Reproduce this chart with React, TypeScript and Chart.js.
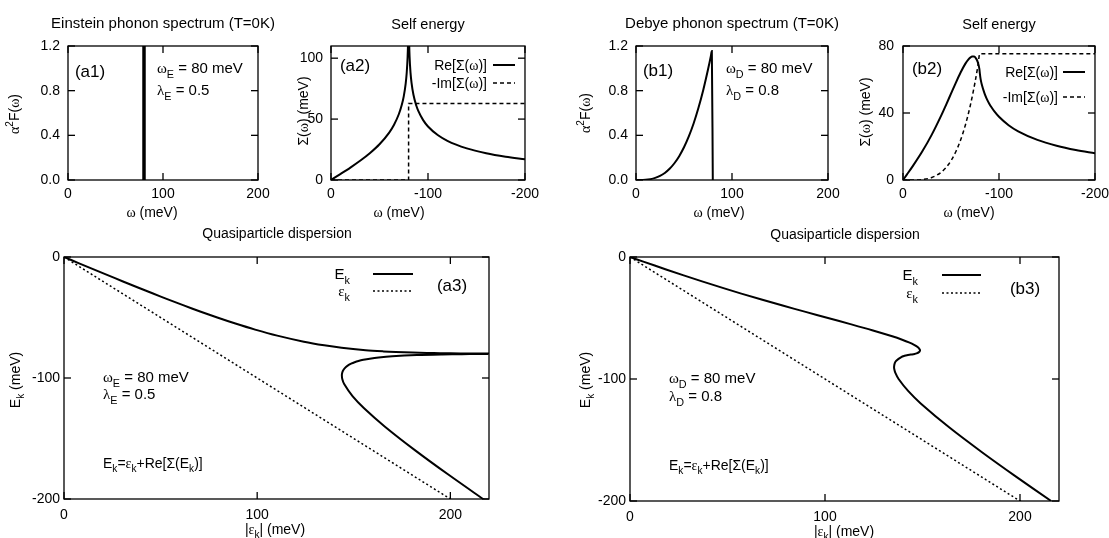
import React, { useEffect, useRef } from 'react';
import { Chart, registerables } from 'chart.js';

Chart.register(...registerables);

const FONT = '"Liberation Sans", Arial, Helvetica, sans-serif';
const SERIF = '"Liberation Serif", "DejaVu Serif", serif';

// ---------- (a1) Einstein phonon spectrum ----------
const einsteinSpecOmega = [80, 80];
const einsteinSpecA2F = [0, 1.2];

// ---------- (a2) Einstein self energy ----------
const einsteinOmega = [0, -10, -20, -30, -40, -50, -60, -65, -70, -73, -75, -77, -78, -79, -79.5, -79.7,
  -80.3, -80.5, -81, -82, -83, -85, -88, -90, -95, -100, -110, -120, -140, -160, -180, -200];
const einsteinReSigma = [0, 5.03, 10.22, 15.77, 21.97, 29.33, 38.92, 45.37, 54.16, 61.69, 68.68, 79.15, 87.39, 101.38, 115.3, 125.5,
  125.6, 115.4, 101.6, 87.9, 79.9, 69.93, 60.89, 56.67, 49.13, 43.94, 36.92, 32.19, 25.99, 21.97, 19.11, 16.95];
const einsteinImOmega = [0, -80, -80, -200];
const einsteinImSigma = [0, 0, 62.83, 62.83];

// ---------- (b1) Debye phonon spectrum ----------
const debyeSpecOmega = [0, 10, 15, 20, 25, 30, 35, 40, 45, 50, 55, 60, 65, 70, 75, 78, 79, 80];
const debyeSpecA2F = [0, 0.0023, 0.0079, 0.0188, 0.0366, 0.0633, 0.1005, 0.15, 0.2136, 0.293, 0.3899, 0.506, 0.644, 0.804, 0.989, 1.112, 1.156, 0];

// ---------- (b2) Debye self energy ----------
const debyeOmega = [0, -4, -10, -20, -30, -40, -45, -50, -55, -60, -65, -68, -70, -72, -74, -76, -77, -78,
  -79, -79.5, -80, -80.5, -81, -82, -85, -87, -90, -92, -95, -100, -110, -120, -140, -160, -180, -200];
const debyeReSigma = [0, 3.21, 8.12, 16.96, 27.08, 38.72, 45.04, 51.54, 58.03, 64.17, 69.47, 71.9, 73.05, 73.7, 73.66, 72.66, 71.66, 70.19,
  67.99, 66.43, 64.0, 61.51, 59.81, 57.14, 51.55, 48.78, 45.42, 43.54, 41.09, 37.74, 32.73, 29.08, 23.97, 20.5, 17.95, 15.99];
const debyeImOmega = [0, -10, -20, -30, -40, -45, -50, -55, -60, -65, -70, -75, -78, -80, -200];
const debyeImSigma = [0, 0.018, 0.295, 1.49, 4.71, 7.55, 11.5, 16.84, 23.86, 32.86, 44.2, 58.24, 68.14, 75.4, 75.4];

// ---------- (a3) Einstein quasiparticle dispersion ----------
const einsteinUpperEps = [0, 7.5, 15.03, 22.59, 30.22, 37.93, 45.77, 53.77, 61.97, 70.46, 79.33, 88.73, 98.92, 110.37, 124.16,
  134.69, 143.68, 156.15, 165.39, 171.71, 180.38, 187.85, 194.8, 205.25, 213.44, 220.67];
const einsteinUpperE = [0, -5, -10, -15, -20, -25, -30, -35, -40, -45, -50, -55, -60, -65, -70,
  -73, -75, -77, -78, -78.5, -79, -79.3, -79.5, -79.7, -79.8, -79.86];
const einsteinLowerEps = [219.6, 213.9, 205.92, 195.8, 182.63, 169.89, 162.9, 158.27, 154.93, 152.4, 150.44, 148.89, 146.67,
  145.25, 144.4, 143.96, 143.83, 144.08, 145.03, 149.35, 155.33, 165.99, 181.97, 199.11, 216.95, 220.57];
const einsteinLowerE = [-80.15, -80.2, -80.3, -80.5, -81, -82, -83, -84, -85, -86, -87, -88, -90,
  -92, -94, -96, -98, -101, -105, -115, -125, -140, -160, -180, -200, -204];
const bareEps = [0, 220];
const bareE = [0, -220];

// ---------- (b3) Debye quasiparticle dispersion ----------
const debyeDispEps = [0, 7.21, 18.12, 36.96, 57.08, 78.72, 90.04, 101.54, 113.03, 124.17, 134.47, 139.9, 143.05, 145.7, 147.66,
  148.66, 148.66, 148.19, 146.99, 145.93, 144.0, 142.01, 140.81, 139.14, 136.55, 135.78, 135.42, 135.54, 136.09, 137.74,
  142.73, 149.08, 163.97, 180.5, 197.95, 215.99];
const debyeDispE = [0, -4, -10, -20, -30, -40, -45, -50, -55, -60, -65, -68, -70, -72, -74,
  -76, -77, -78, -79, -79.5, -80, -80.5, -81, -82, -85, -87, -90, -92, -95, -100,
  -110, -120, -140, -160, -180, -200];

// ---------- tick labels ----------
const a2fTicks = ['0.0', '0.4', '0.8', '1.2'];

const zip = (xs: number[], ys: number[]) => xs.map((x, i) => ({ x, y: ys[i] }));

interface TextSpec { x: number; y: number; s: string; size: number; align?: 'left' | 'center' | 'right'; rot?: boolean }
interface Sample { x1: number; x2: number; y: number; dash: number[]; w: number }
interface PanelSpec {
  id: string;
  frame: [number, number, number, number];
  canvas: [number, number, number, number];
  xMin: number; xMax: number; xStep: number; xReverse?: boolean;
  yMin: number; yMax: number; yStep: number; yFmt?: (v: number) => string;
  yPad: number; xPad: number;
  datasets: any[];
  texts: TextSpec[];
  samples: Sample[];
}

const solid = (data: any[], w = 2) => ({ data, borderColor: '#000', borderWidth: w, pointRadius: 0, tension: 0, fill: false, clip: 0 });
const smooth = (data: any[], w = 2) => ({ ...solid(data, w), cubicInterpolationMode: 'monotone' });
const curved = (data: any[], w = 2) => ({ ...solid(data, w), tension: 0.3 });
const dashed = (data: any[], dash: number[], w = 1.5) => ({ ...solid(data, w), borderDash: dash });

const isGreek = (c: string) => /[\u0370-\u03ff]/.test(c) && c !== 'Σ';

function parseRich(s: string) {
  const out: { t: string; m: number }[] = [];
  let i = 0; let buf = '';
  while (i < s.length) {
    const c = s[i];
    if ((c === '_' || c === '^') && s[i + 1] === '{') {
      if (buf) { out.push({ t: buf, m: 0 }); buf = ''; }
      const end = s.indexOf('}', i + 2);
      out.push({ t: s.slice(i + 2, end), m: c === '_' ? 1 : 2 });
      i = end + 1;
    } else { buf += c; i++; }
  }
  if (buf) out.push({ t: buf, m: 0 });
  const runs: { t: string; m: number; g: boolean }[] = [];
  out.forEach(sg => {
    let cur = ''; let g = false;
    for (const ch of sg.t) {
      const gg = isGreek(ch);
      if (cur && gg !== g) { runs.push({ t: cur, m: sg.m, g }); cur = ''; }
      g = gg; cur += ch;
    }
    if (cur) runs.push({ t: cur, m: sg.m, g });
  });
  return runs;
}

function drawRich(ctx: CanvasRenderingContext2D, x: number, y: number, t: TextSpec) {
  const runs = parseRich(t.s);
  const size = t.size;
  const small = size * 0.72;
  const fontOf = (r: { m: number; g: boolean }) => `${r.m ? small : size}px ${r.g ? SERIF : FONT}`;
  let total = 0;
  const widths = runs.map(r => { ctx.font = fontOf(r); const w = ctx.measureText(r.t).width; total += w; return w; });
  ctx.save();
  ctx.translate(x, y);
  if (t.rot) ctx.rotate(-Math.PI / 2);
  let cx = t.align === 'center' ? -total / 2 : t.align === 'right' ? -total : 0;
  const base = size * 0.36;
  ctx.textBaseline = 'alphabetic';
  ctx.textAlign = 'left';
  ctx.fillStyle = '#000';
  runs.forEach((r, i) => {
    ctx.font = fontOf(r);
    const dy = r.m === 1 ? size * 0.28 : r.m === 2 ? -size * 0.42 : 0;
    ctx.fillText(r.t, cx, base + dy);
    cx += widths[i];
  });
  ctx.restore();
}

function makeDecor(spec: PanelSpec) {
  return {
    id: 'decor_' + spec.id,
    afterDatasetsDraw(chart: any) {
      const ctx: CanvasRenderingContext2D = chart.ctx;
      const ca = chart.chartArea;
      const ox = spec.canvas[0], oy = spec.canvas[1];
      ctx.save();
      ctx.strokeStyle = '#000';
      ctx.lineWidth = 1.3;
      ctx.setLineDash([]);
      ctx.strokeRect(ca.left, ca.top, ca.right - ca.left, ca.bottom - ca.top);
      const TL = 7;
      const line = (x1: number, y1: number, x2: number, y2: number) => { ctx.beginPath(); ctx.moveTo(x1, y1); ctx.lineTo(x2, y2); ctx.stroke(); };
      const xs = chart.scales.x, ys = chart.scales.y;
      xs.ticks.forEach((tk: any) => { const p = xs.getPixelForValue(tk.value); line(p, ca.bottom, p, ca.bottom - TL); line(p, ca.top, p, ca.top + TL); });
      ys.ticks.forEach((tk: any) => { const p = ys.getPixelForValue(tk.value); line(ca.left, p, ca.left + TL, p); line(ca.right, p, ca.right - TL, p); });
      spec.samples.forEach(s => {
        ctx.lineWidth = s.w;
        ctx.setLineDash(s.dash);
        line(s.x1 - ox, s.y - oy, s.x2 - ox, s.y - oy);
      });
      ctx.setLineDash([]);
      spec.texts.forEach(t => drawRich(ctx, t.x - ox, t.y - oy, t));
      ctx.restore();
    },
  };
}

const panels: PanelSpec[] = [
  {
    id: 'a1', frame: [68, 46, 258, 180], canvas: [0, 0, 279, 225],
    xMin: 0, xMax: 200, xStep: 100, yMin: 0, yMax: 1.2, yStep: 0.4,
    yFmt: (v) => a2fTicks[Math.round(v / 0.4)] ?? v.toFixed(1), yPad: 8, xPad: 6,
    datasets: [solid(zip(einsteinSpecOmega, einsteinSpecA2F), 3.5)],
    texts: [
      { x: 163, y: 23, s: 'Einstein phonon spectrum (T=0K)', size: 15, align: 'center' },
      { x: 90, y: 71, s: '(a1)', size: 17, align: 'center' },
      { x: 157, y: 68, s: 'ω_{E} = 80 meV', size: 15 },
      { x: 157, y: 90, s: 'λ_{E} = 0.5', size: 15 },
      { x: 14, y: 114, s: 'α^{2}F(ω)', size: 14, align: 'center', rot: true },
      { x: 152, y: 212, s: 'ω (meV)', size: 14, align: 'center' },
    ],
    samples: [],
  },
  {
    id: 'a2', frame: [331, 46, 525, 180], canvas: [280, 0, 545, 225],
    xMin: -200, xMax: 0, xStep: 100, xReverse: true, yMin: 0, yMax: 110, yStep: 50, yPad: 8, xPad: 6,
    datasets: [
      smooth(zip(einsteinOmega, einsteinReSigma), 2),
      dashed(zip(einsteinImOmega, einsteinImSigma), [4, 3], 1.5),
    ],
    texts: [
      { x: 428, y: 24, s: 'Self energy', size: 14.5, align: 'center' },
      { x: 355, y: 65, s: '(a2)', size: 17, align: 'center' },
      { x: 487, y: 65, s: 'Re[Σ(ω)]', size: 14, align: 'right' },
      { x: 487, y: 83, s: '-Im[Σ(ω)]', size: 14, align: 'right' },
      { x: 303, y: 111, s: 'Σ(ω) (meV)', size: 14, align: 'center', rot: true },
      { x: 399, y: 212, s: 'ω (meV)', size: 14, align: 'center' },
    ],
    samples: [
      { x1: 493, x2: 515, y: 65, dash: [], w: 2 },
      { x1: 493, x2: 515, y: 83, dash: [4, 3], w: 1.5 },
    ],
  },
  {
    id: 'b1', frame: [636, 46, 828, 180], canvas: [550, 0, 848, 225],
    xMin: 0, xMax: 200, xStep: 100, yMin: 0, yMax: 1.2, yStep: 0.4,
    yFmt: (v) => a2fTicks[Math.round(v / 0.4)] ?? v.toFixed(1), yPad: 8, xPad: 6,
    datasets: [smooth(zip(debyeSpecOmega, debyeSpecA2F), 2)],
    texts: [
      { x: 732, y: 23, s: 'Debye phonon spectrum (T=0K)', size: 15, align: 'center' },
      { x: 658, y: 70, s: '(b1)', size: 17, align: 'center' },
      { x: 726, y: 68, s: 'ω_{D} = 80 meV', size: 15 },
      { x: 726, y: 90, s: 'λ_{D} = 0.8', size: 15 },
      { x: 585, y: 113, s: 'α^{2}F(ω)', size: 14, align: 'center', rot: true },
      { x: 719, y: 212, s: 'ω (meV)', size: 14, align: 'center' },
    ],
    samples: [],
  },
  {
    id: 'b2', frame: [903, 46, 1095, 180], canvas: [850, 0, 1115, 225],
    xMin: -200, xMax: 0, xStep: 100, xReverse: true, yMin: 0, yMax: 80, yStep: 40, yPad: 9, xPad: 6,
    datasets: [
      smooth(zip(debyeOmega, debyeReSigma), 2),
      { ...dashed(zip(debyeImOmega, debyeImSigma), [4, 3], 1.5), cubicInterpolationMode: 'monotone' },
    ],
    texts: [
      { x: 999, y: 24, s: 'Self energy', size: 14.5, align: 'center' },
      { x: 927, y: 68, s: '(b2)', size: 17, align: 'center' },
      { x: 1058, y: 72, s: 'Re[Σ(ω)]', size: 14, align: 'right' },
      { x: 1058, y: 97, s: '-Im[Σ(ω)]', size: 14, align: 'right' },
      { x: 865, y: 112, s: 'Σ(ω) (meV)', size: 14, align: 'center', rot: true },
      { x: 969, y: 212, s: 'ω (meV)', size: 14, align: 'center' },
    ],
    samples: [
      { x1: 1063, x2: 1085, y: 72, dash: [], w: 2 },
      { x1: 1063, x2: 1085, y: 97, dash: [4, 3], w: 1.5 },
    ],
  },
  {
    id: 'a3', frame: [64, 257, 489, 499], canvas: [0, 200, 519, 538],
    xMin: 0, xMax: 220, xStep: 100, yMin: -200, yMax: 0, yStep: 100, yPad: 4, xPad: 8,
    datasets: [
      dashed(zip(bareEps, bareE), [2, 2.5], 1.5),
      curved(zip(einsteinUpperEps, einsteinUpperE), 2),
      curved(zip(einsteinLowerEps, einsteinLowerE), 2),
    ],
    texts: [
      { x: 277, y: 233, s: 'Quasiparticle dispersion', size: 14, align: 'center' },
      { x: 350, y: 274, s: 'E_{k}', size: 15, align: 'right' },
      { x: 350, y: 291, s: 'ε_{k}', size: 15, align: 'right' },
      { x: 452, y: 285, s: '(a3)', size: 17, align: 'center' },
      { x: 103, y: 377, s: 'ω_{E} = 80 meV', size: 15 },
      { x: 103, y: 394, s: 'λ_{E} = 0.5', size: 15 },
      { x: 103, y: 463, s: 'E_{k}=ε_{k}+Re[Σ(E_{k})]', size: 14 },
      { x: 15, y: 380, s: 'E_{k} (meV)', size: 14, align: 'center', rot: true },
      { x: 275, y: 529, s: '|ε_{k}| (meV)', size: 14, align: 'center' },
    ],
    samples: [
      { x1: 373, x2: 413, y: 274, dash: [], w: 2 },
      { x1: 373, x2: 413, y: 291, dash: [2, 2.5], w: 1.5 },
    ],
  },
  {
    id: 'b3', frame: [630, 257, 1059, 501], canvas: [550, 200, 1109, 538],
    xMin: 0, xMax: 220, xStep: 100, yMin: -200, yMax: 0, yStep: 100, yPad: 4, xPad: 8,
    datasets: [
      dashed(zip(bareEps, bareE), [2, 2.5], 1.5),
      curved(zip(debyeDispEps, debyeDispE), 2),
    ],
    texts: [
      { x: 845, y: 234, s: 'Quasiparticle dispersion', size: 14, align: 'center' },
      { x: 918, y: 275, s: 'E_{k}', size: 15, align: 'right' },
      { x: 918, y: 293, s: 'ε_{k}', size: 15, align: 'right' },
      { x: 1025, y: 288, s: '(b3)', size: 17, align: 'center' },
      { x: 669, y: 378, s: 'ω_{D} = 80 meV', size: 15 },
      { x: 669, y: 396, s: 'λ_{D} = 0.8', size: 15 },
      { x: 669, y: 465, s: 'E_{k}=ε_{k}+Re[Σ(E_{k})]', size: 14 },
      { x: 585, y: 380, s: 'E_{k} (meV)', size: 14, align: 'center', rot: true },
      { x: 844, y: 531, s: '|ε_{k}| (meV)', size: 14, align: 'center' },
    ],
    samples: [
      { x1: 942, x2: 981, y: 275, dash: [], w: 2 },
      { x1: 942, x2: 981, y: 293, dash: [2, 2.5], w: 1.5 },
    ],
  },
];

function PanelChart({ spec }: { spec: PanelSpec }) {
  const ref = useRef<HTMLCanvasElement | null>(null);
  const [cL, cT, cR, cB] = spec.canvas;
  const [L, T, R, B] = spec.frame;
  const w = cR - cL, h = cB - cT;
  useEffect(() => {
    if (!ref.current) return;
    const tickFont = { family: FONT, size: 14 };
    const chart = new Chart(ref.current, {
      type: 'line',
      data: { datasets: spec.datasets },
      options: {
        animation: false,
        responsive: false,
        maintainAspectRatio: false,
        devicePixelRatio: 1,
        layout: { padding: { left: 0, top: T - cT, right: cR - R, bottom: 0 } },
        plugins: { legend: { display: false }, tooltip: { enabled: false }, title: { display: false } },
        scales: {
          x: {
            type: 'linear', min: spec.xMin, max: spec.xMax, reverse: !!spec.xReverse,
            grid: { display: false, drawTicks: false }, border: { display: false },
            ticks: { stepSize: spec.xStep, includeBounds: false, color: '#000', font: tickFont, padding: spec.xPad, maxRotation: 0, autoSkip: false },
            afterFit: (s: any) => { s.height = cB - B; },
          },
          y: {
            type: 'linear', min: spec.yMin, max: spec.yMax,
            grid: { display: false, drawTicks: false }, border: { display: false },
            ticks: {
              stepSize: spec.yStep, includeBounds: false, color: '#000', font: tickFont, padding: spec.yPad, autoSkip: false,
              callback: (v: any) => (spec.yFmt ? spec.yFmt(Number(v)) : String(v)),
            },
            afterFit: (s: any) => { s.width = L - cL; },
          },
        },
      } as any,
      plugins: [makeDecor(spec)],
    });
    return () => chart.destroy();
  }, [spec]);
  return (
    <canvas
      ref={ref}
      width={w}
      height={h}
      style={{ position: 'absolute', left: cL, top: cT, width: w, height: h }}
    />
  );
}

export default function App() {
  return (
    <div style={{ position: 'fixed', left: 0, top: 0, width: 1109, height: 538, overflow: 'hidden', background: '#fff' }}>
      {panels.map(p => <PanelChart key={p.id} spec={p} />)}
    </div>
  );
}
